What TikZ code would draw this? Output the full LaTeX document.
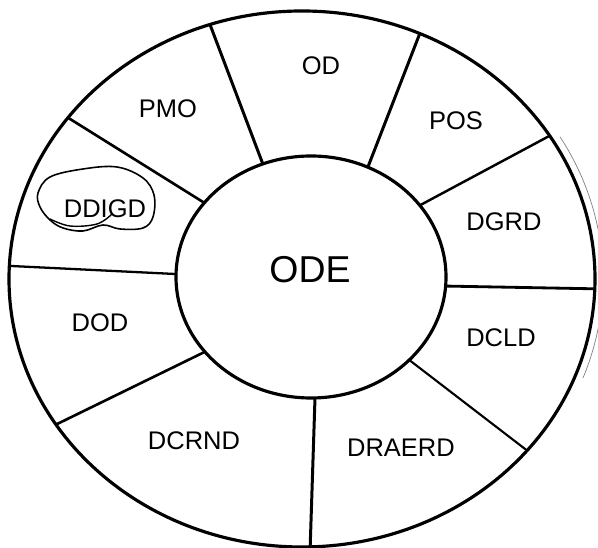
\documentclass[tikz,border=0pt]{standalone}
\usepackage{fontspec}
\setmainfont{Liberation Sans}
\usetikzlibrary{calc}

\begin{document}
\begin{tikzpicture}[x=0.2mm, y=0.2mm,
    rim/.style={line width=1.8pt},
    seg/.style={font=\fontsize{14.5}{17}\selectfont},
    hub/.style={font=\fontsize{21.3}{25}\selectfont}]
    \useasboundingbox (0,0) rectangle (598,548);
    \coordinate (out) at (302,269);
    \coordinate (in) at (311,271);

    \draw[rim] (out) ellipse [x radius=293, y radius=268];
    \draw[rim] (in) ellipse [x radius=135, y radius=121];
    \draw[gray, line width=0.4pt] ($(out)+(31:301 and 276)$)
        arc [start angle=31, end angle=-21, x radius=301, y radius=276];

    % spokes: angle on the hub / angle on the rim / width
    \foreach \a/\b/\w in {110.9/108.3/1.7, 65.1/66.3/1.7, 36.3/32.3/1.4,
        -4.3/-2.1/1.6, -43.3/-39.8/1.2, -88.3/-88.4/1.7,
        218.2/212.9/1.5, 178.6/177.2/1.3, 142.2/143.0/1.5}
        \draw[line width=\w pt] ($(in)+(\a:135 and 121)$) -- ($(out)+(\b:293 and 268)$);

    \node[hub] (ode) at (310,278) {ODE};
    \node[seg] (od) at (321,482) {OD};
    \node[seg] (pos) at (456,427) {POS};
    \node[seg] (dgrd) at (504,326) {DGRD};
    \node[seg] (dcld) at (501,210) {DCLD};
    \node[seg] (draerd) at (401,100) {DRAERD};
    \node[seg] (dcrnd) at (194,107) {DCRND};
    \node[seg] (dod) at (100,225) {DOD};
    \node[seg] (ddigd) at (105,339) {DDIGD};
    \node[seg] (pmo) at (168,439) {PMO};

    % pen loop round DDIGD
    \draw[line width=0.9pt] plot[smooth cycle, tension=0.6] coordinates {
        (38,355) (50,371) (83,379) (117,381) (143,370) (154,353) (153,331)
        (143,320) (120,319) (103,323) (83,317) (63,320) (50,328) (40,341)};
    \draw[line width=0.8pt] plot[smooth, tension=0.6] coordinates {
        (50,329) (70,322) (97,324) (112,334)};
\end{tikzpicture}
\end{document}
